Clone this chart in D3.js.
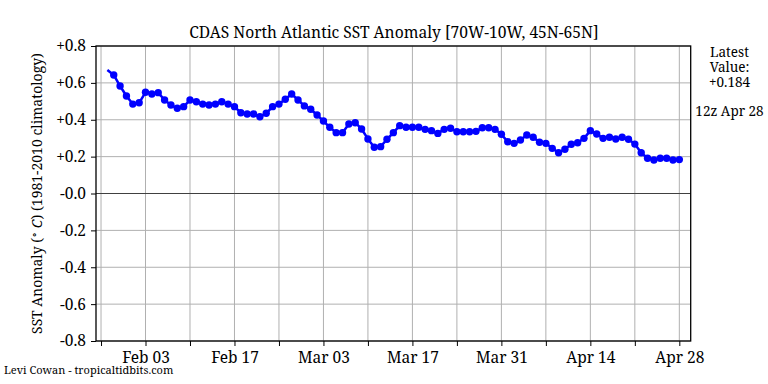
<!DOCTYPE html>
<html><head><meta charset="utf-8">
<script src="https://cdn.jsdelivr.net/npm/d3@7"></script>
<style>body{margin:0;background:#fff} text{font-family:"Noto Serif",serif;fill:#000}</style>
</head><body>
<svg id="c" width="768" height="384"></svg>
<script>
const startDate = "2025-01-28";
const anomalies = [
 0.670,0.643,0.583,0.529,0.485,0.492,0.549,0.540,0.547,0.507,
 0.480,0.462,0.471,0.507,0.498,0.485,0.480,0.485,0.498,0.485,
 0.471,0.438,0.431,0.431,0.416,0.435,0.471,0.485,0.511,0.540,
 0.507,0.475,0.457,0.426,0.393,0.359,0.330,0.330,0.377,0.384,
 0.350,0.296,0.251,0.254,0.294,0.330,0.368,0.359,0.359,0.359,
 0.348,0.341,0.326,0.348,0.354,0.335,0.335,0.335,0.337,0.357,
 0.357,0.348,0.321,0.281,0.272,0.290,0.317,0.305,0.278,0.272,
 0.245,0.221,0.240,0.267,0.275,0.299,0.341,0.323,0.299,0.305,
 0.296,0.305,0.294,0.268,0.221,0.191,0.182,0.191,0.191,0.182,
 0.184];
const yTicks = [0.8,0.6,0.4,0.2,0,-0.2,-0.4,-0.6,-0.8];
const yTickLabels = ["+0.8","+0.6","+0.4","+0.2","-0.0","-0.2","-0.4","-0.6","-0.8"];
const xTickDates = ["2025-01-27","2025-02-03","2025-02-10","2025-02-17","2025-02-24","2025-03-03","2025-03-10",
 "2025-03-17","2025-03-24","2025-03-31","2025-04-07","2025-04-14","2025-04-21","2025-04-28"];
const xTickLabels = ["","Feb 03","","Feb 17","","Mar 03","","Mar 17","","Mar 31","","Apr 14","","Apr 28"];
const titleText = "CDAS North Atlantic SST Anomaly [70W-10W, 45N-65N]";
const sideText = ["Latest","Value:","+0.184","","12z Apr 28"];
const creditText = "Levi Cowan - tropicaltidbits.com";

const FONT = '"Noto Serif", serif';
const DAY = 864e5;
const t0 = Date.parse(startDate);
const data = anomalies.map((v,i)=>({d:new Date(t0+i*DAY), v}));
const xt = xTickDates.map(s=>new Date(Date.parse(s)));

const L=96, R=690.7, T=46, B=341;
const svg = d3.select("#c");
const x = d3.scaleUtc().domain([new Date(t0-1.79*DAY), new Date(t0+90*DAY+1.79*DAY)]).range([L,R]);
const y = d3.scaleLinear().domain([-0.8,0.8]).range([B,T]);

// grid
svg.append("g").selectAll("line").data(xt).join("line")
 .attr("x1",d=>x(d)).attr("x2",d=>x(d)).attr("y1",T).attr("y2",B)
 .attr("stroke","#b0b0b0").attr("stroke-width",1);
svg.append("g").selectAll("line").data(yTicks.filter(v=>v!==0)).join("line")
 .attr("x1",L).attr("x2",R).attr("y1",d=>y(d)).attr("y2",d=>y(d))
 .attr("stroke","#b0b0b0").attr("stroke-width",1);
svg.append("line").attr("x1",L).attr("x2",R).attr("y1",y(0)).attr("y2",y(0))
 .attr("stroke","#404040").attr("stroke-width",1.2);

// data
svg.append("path").datum(data)
 .attr("d",d3.line().x(d=>x(d.d)).y(d=>y(d.v)))
 .attr("fill","none").attr("stroke","#0000ff").attr("stroke-width",2.5).attr("stroke-linejoin","round");
svg.append("g").selectAll("circle").data(data.slice(1)).join("circle")
 .attr("cx",d=>x(d.d)).attr("cy",d=>y(d.v)).attr("r",3.7).attr("fill","#0000ff");

// frame
svg.append("rect").attr("x",L).attr("y",T).attr("width",R-L).attr("height",B-T)
 .attr("fill","none").attr("stroke","#000").attr("stroke-width",1.3);

// axes
const TS = 15.5;
const xa = svg.append("g").attr("transform",`translate(0,${B})`)
 .call(d3.axisBottom(x).tickValues(xt).tickSize(5).tickPadding(3)
   .tickFormat((d,i)=>xTickLabels[i]));
const ya = svg.append("g").attr("transform",`translate(${L},0)`)
 .call(d3.axisLeft(y).tickValues(yTicks).tickSize(5).tickPadding(5)
   .tickFormat((d,i)=>yTickLabels[i]));
[xa,ya].forEach(a=>{a.select(".domain").remove();
 a.attr("font-family",FONT).attr("font-size",TS);
 a.selectAll("text").style("font-family",FONT).attr("font-size",TS).attr("fill","#000");
 a.selectAll("line").attr("stroke","#000").attr("stroke-width",1);});
xa.selectAll("text").attr("dy","0.9em");

// title
svg.append("text").attr("x",(L+R)/2+0.5).attr("y",38).attr("text-anchor","middle")
 .style("font-family",FONT).attr("font-size",15.6).text(titleText);

// y label
const yl = svg.append("text").attr("transform",`translate(42,${(T+B)/2}) rotate(-90)`)
 .attr("text-anchor","middle").style("font-family",FONT).attr("font-size",14);
yl.append("tspan").text("SST Anomaly (");
yl.append("tspan").attr("font-size",10).attr("dy",-5).text("∘");
yl.append("tspan").attr("dy",5).text(" ");
yl.append("tspan").attr("font-style","italic").text("C");
yl.append("tspan").text(") (1981-2010 climatology)");

// side text
svg.append("g").selectAll("text").data(sideText).join("text")
 .attr("x",729.5).attr("y",(d,i)=>57+i*14.8).attr("text-anchor","middle")
 .style("font-family",FONT).attr("font-size",13.5).text(d=>d);

// credit
svg.append("text").attr("x",4).attr("y",374).style("font-family",FONT).attr("font-size",11).text(creditText);
</script>
</body></html>
